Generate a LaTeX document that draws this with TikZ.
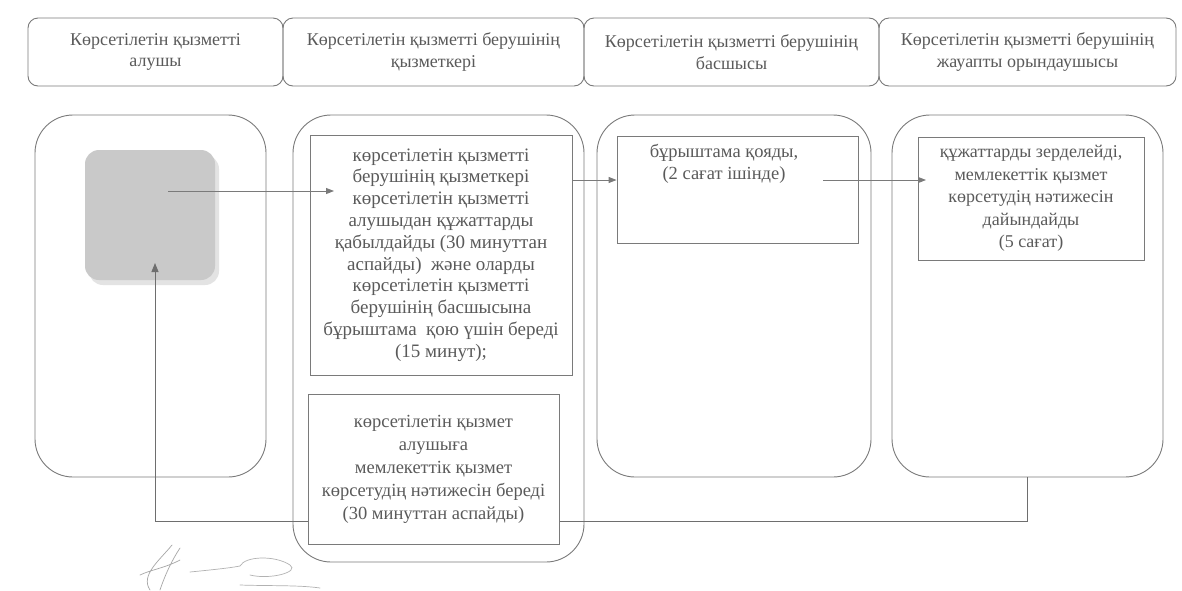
\documentclass[tikz,border=0pt]{standalone}
\usepackage{fontspec}
\setmainfont{Liberation Serif}
\usetikzlibrary{arrows.meta}
\definecolor{ink}{HTML}{5A5A5A}
\definecolor{edge}{HTML}{7A7A7A}
\definecolor{graybox}{HTML}{C9C9C9}
\begin{document}
\begin{tikzpicture}[x=1pt,y=-1pt]
\tikzset{
  hdr/.style={draw=edge, line width=0.9pt, rounded corners=10pt, minimum height=68pt, text=ink, align=center, font=\fontsize{18}{21.5}\selectfont, inner sep=0pt},
  lane/.style={draw=edge, line width=0.9pt, rounded corners=38pt, inner sep=0pt},
  stepbox/.style={draw=edge, line width=0.9pt, fill=white, inner sep=0pt, text=ink, align=center, font=\fontsize{19}{21.8}\selectfont},
  txt/.style={text=ink, align=center, font=\fontsize{18.5}{22}\selectfont, inner sep=0pt},
  flow/.style={draw=edge, line width=0.9pt, -{Triangle[length=8pt,width=6pt]}},
  back/.style={draw=edge!90!black, line width=0.9pt, -{Triangle[length=9pt,width=7pt]}},
}
\useasboundingbox[fill=white] (0,0) rectangle (1182,590);

% header row
\node[hdr, minimum width=255pt] (h1) at (155.5,52) {Көрсетілетін қызметті\\алушы};
\node[hdr, minimum width=301pt] (h2) at (433.5,52) {Көрсетілетін қызметті берушінің\\қызметкері};
\node[hdr, minimum width=295pt] (h3) at (731.5,52) {Көрсетілетін қызметті берушінің\\басшысы};
\node[hdr, minimum width=297pt] (h4) at (1027.5,52) {Көрсетілетін қызметті берушінің\\жауапты орындаушысы};

% lanes
\node[lane, minimum width=231pt, minimum height=362pt] (l1) at (150.5,296) {};
\node[lane, minimum width=291pt, minimum height=447pt] (l2) at (438.5,338.5) {};
\node[lane, minimum width=274pt, minimum height=362pt] (l3) at (734,296) {};
\node[lane, minimum width=271pt, minimum height=362pt] (l4) at (1027.5,296) {};

% grey start box with faint shadow
\fill[gray!22, rounded corners=14pt] (89,155) rectangle (219,285);
\node[fill=graybox, rounded corners=14pt, minimum width=130pt, minimum height=130pt, inner sep=0pt] (g) at (150,215) {};

% steps
\node[stepbox, minimum width=262pt, minimum height=240pt] (b1) at (441,255) {көрсетілетін қызметті\\берушінің қызметкері\\көрсетілетін қызметті\\алушыдан құжаттарды\\қабылдайды (30 минуттан\\аспайды)\ \ және оларды\\көрсетілетін қызметті\\берушінің басшысына\\бұрыштама\ \ қою үшін береді\\(15 минут);};
\node[stepbox, minimum width=241pt, minimum height=107pt] (b3) at (737.5,189.5) {};
\node[txt] (t3) at (724,164) {бұрыштама қояды,\\(2 сағат ішінде)};
\node[stepbox, minimum width=226pt, minimum height=123pt, font=\fontsize{18}{22.5}\selectfont] (b4) at (1031,198.5) {құжаттарды зерделейді,\\мемлекеттік қызмет\\көрсетудің нәтижесін\\дайындайды\\(5 сағат)};

% connectors
\coordinate (a1s) at (168,191);
\coordinate (a1e) at (334,191);
\draw[flow] (a1s) -- (a1e);
\coordinate (a2y) at (0,180);
\draw[flow] (b1.east |- a2y) -- (b3.west |- a2y);
\coordinate (a3s) at (823,180);
\coordinate (a3e) at (926,180);
\draw[flow] (a3s) -- (a3e);

% return connector
\coordinate (r1) at (1027.5,521);
\coordinate (r2) at (155,521);
\coordinate (r3) at (155,263);
\draw[back] (l4.south) -- (r1) -- (r2) -- (r3);

\node[stepbox, minimum width=251pt, minimum height=150pt, font=\fontsize{18.5}{23}\selectfont] (b5) at (433.5,469) {көрсетілетін қызмет\\алушыға\\мемлекеттік қызмет\\көрсетудің нәтижесін береді\\(30 минуттан аспайды)};

% signature
\draw[gray!70, line width=0.7pt, line cap=round] (150,590) .. controls (140,575) and (160,560) .. (172,545) (140,575) .. controls (150,570) and (165,568) .. (180,560) (160,590) .. controls (165,575) and (172,560) .. (180,548);
\draw[gray!60, line width=0.7pt, line cap=round] (190,572) .. controls (210,570) and (230,568) .. (240,566) .. controls (245,556) and (275,555) .. (290,565) .. controls (300,572) and (270,580) .. (250,575) (240,585) .. controls (270,586) and (300,585) .. (320,588);
\end{tikzpicture}
\end{document}
